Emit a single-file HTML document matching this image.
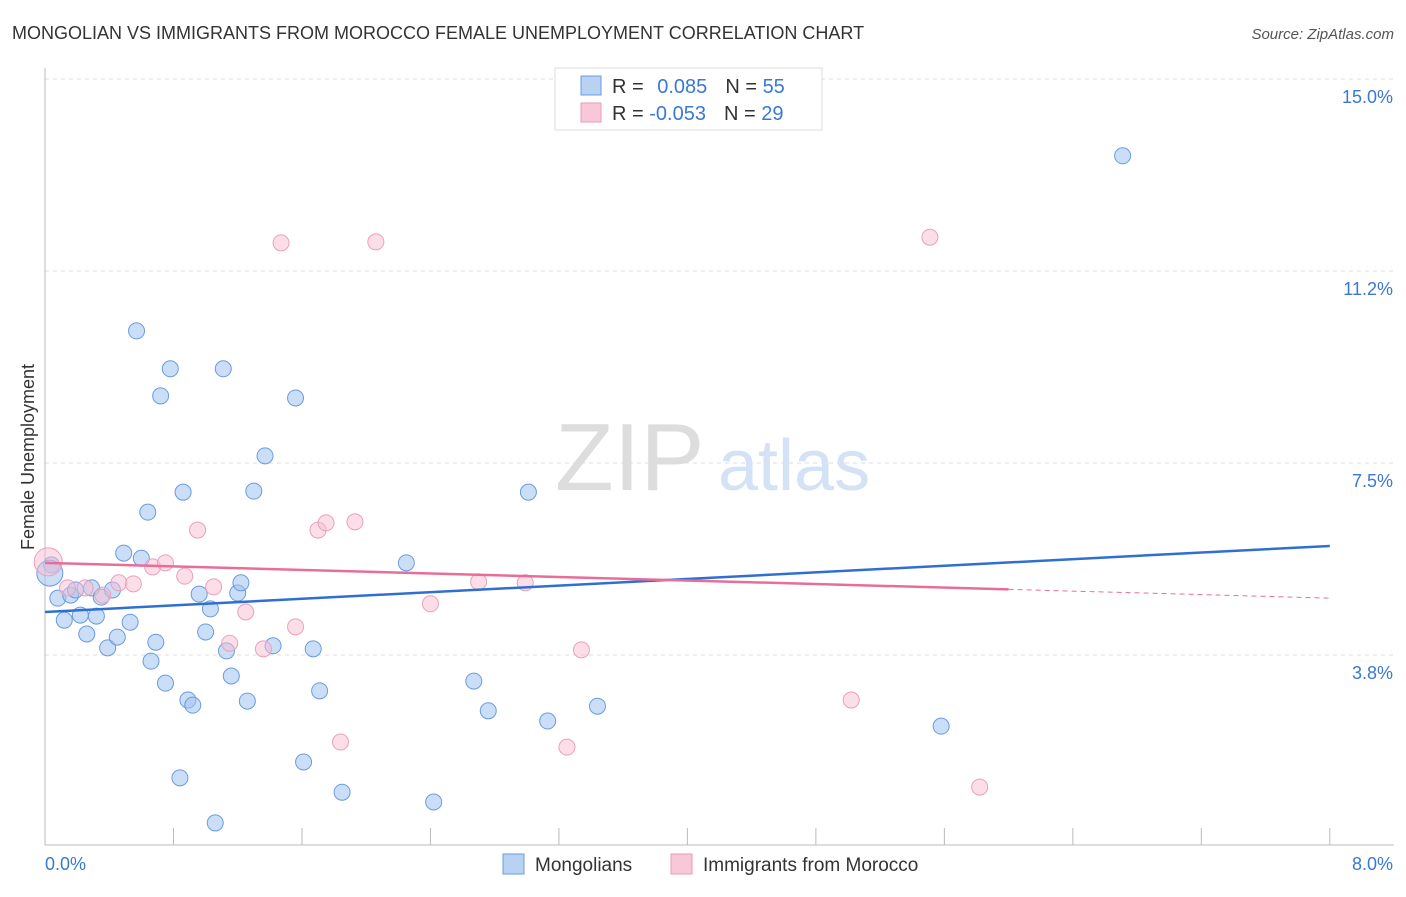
<!DOCTYPE html>
<html><head><meta charset="utf-8"><style>
body{margin:0;background:#fff;font-family:"Liberation Sans",sans-serif;}
svg text{font-family:"Liberation Sans",sans-serif;}
</style></head><body>
<svg id="chart" width="1406" height="892" viewBox="0 0 1406 892">
<text x="12" y="39" font-size="18" fill="#333">MONGOLIAN VS IMMIGRANTS FROM MOROCCO FEMALE UNEMPLOYMENT CORRELATION CHART</text>
<text x="1394" y="39" font-size="15" fill="#555" text-anchor="end" font-style="italic">Source: ZipAtlas.com</text>
<g id="grid"></g>
<g id="axes"></g>
<text x="555" y="490" font-size="96" fill="#ddd" font-family="Liberation Serif">ZIP</text>
<text x="718" y="490" font-size="72" fill="#d4e2f5">atlas</text>
<text transform="translate(34,457) rotate(-90)" font-size="18" fill="#333" text-anchor="middle">Female Unemployment</text>
<g id="pts"></g>
<g id="lines"></g>
<g>
<rect x="555" y="68" width="267" height="62" fill="#fff" stroke="#ddd"/>
<rect x="581" y="76" width="20" height="19" fill="#b8d2f4" stroke="#6a9be0"/>
<rect x="581" y="103" width="20" height="19" fill="#f9c8d8" stroke="#e99ab6"/>
<text x="612" y="93" font-size="20" fill="#333">R = <tspan fill="#3a78d4" dx="8">0.085</tspan><tspan dx="18">N = </tspan><tspan fill="#3a78d4">55</tspan></text>
<text x="612" y="120" font-size="20" fill="#333">R = <tspan fill="#3a78d4">-0.053</tspan><tspan dx="18">N = </tspan><tspan fill="#3a78d4">29</tspan></text>
</g>
<g>
<rect x="503" y="854" width="21" height="20" fill="#b8d2f4" stroke="#6a9be0"/>
<text x="535" y="871" font-size="19" fill="#333">Mongolians</text>
<rect x="671" y="854" width="21" height="20" fill="#f9c8d8" stroke="#e99ab6"/>
<text x="703" y="871" font-size="19" fill="#333">Immigrants from Morocco</text>
</g>
</svg>
<script>
const yTicks=[3.75,7.5,11.25,15];
const yTickLabels=["3.8%","7.5%","11.2%","15.0%"];
const xTicks=[0,0.8,1.6,2.4,3.2,4.0,4.8,5.6,6.4,7.2,8.0];
const blueX=[0.04,0.08,0.12,0.16,0.19,0.22,0.26,0.29,0.32,0.35,0.39,0.42,0.45,0.49,0.53,0.57,0.60,0.64,0.66,0.69,0.72,0.75,0.78,0.84,0.86,0.89,0.92,0.96,1.00,1.03,1.06,1.11,1.13,1.16,1.20,1.22,1.26,1.30,1.37,1.42,1.56,1.61,1.67,1.71,1.85,2.25,2.42,2.67,2.76,3.01,3.13,3.44,5.58,6.71,0.03];
const blueY=[5.51,4.86,4.43,4.92,5.02,4.53,4.16,5.06,4.51,4.88,3.89,5.02,4.10,5.74,4.39,10.08,5.64,6.54,3.63,4.00,8.81,3.20,9.34,1.35,6.93,2.87,2.77,4.94,4.20,4.65,0.47,9.34,3.83,3.34,4.96,5.16,2.85,6.95,7.64,3.93,8.77,1.66,3.87,3.05,1.07,5.55,0.88,3.24,2.66,6.93,2.46,2.75,2.36,13.50,5.35];
const pinkX=[0.02,0.14,0.25,0.36,0.46,0.55,0.67,0.75,0.87,0.95,1.05,1.15,1.25,1.36,1.47,1.56,1.70,1.75,1.84,1.93,2.06,2.40,2.70,2.99,3.25,3.34,5.02,5.51,5.82];
const pinkY=[5.57,5.06,5.06,4.92,5.16,5.14,5.47,5.55,5.29,6.19,5.08,3.98,4.59,3.87,11.80,4.30,6.19,6.33,2.05,6.35,11.82,4.75,5.18,5.16,1.95,3.85,2.87,11.91,1.17];
const blueTrend=[4.59,5.88];
const pinkTrend=[5.55,4.86];
const pinkSolidEnd=6.0;
const X=v=>45+v*160.6, Y=v=>847-v*51.2;
const NS="http://www.w3.org/2000/svg";
function mk(tag,attrs,parent){const e=document.createElementNS(NS,tag);for(const k in attrs)e.setAttribute(k,attrs[k]);document.getElementById(parent).appendChild(e);return e;}
yTicks.forEach((t,i)=>{
 const l=mk('line',{x1:45,x2:1394,y1:Y(t),y2:Y(t),stroke:'#ddd','stroke-dasharray':'4,4'},'grid');
 
 
 const tx=mk('text',{x:1393,y:Y(t)+24,'font-size':18,fill:'#3a78d4','text-anchor':'end'},'grid');
 tx.textContent=yTickLabels[i];
 
 
});
const ya=mk('line',{x1:45,x2:45,y1:68,y2:845,stroke:'#bbb'},'axes');


const xa=mk('line',{x1:45,x2:1394,y1:845,y2:845,stroke:'#bbb'},'axes');


xTicks.forEach(t=>{
 const l=mk('line',{x1:X(t),x2:X(t),y1:828,y2:845,stroke:'#bbb'},'axes');
 
 
});
const xl0=mk('text',{x:45,y:870,'font-size':18,fill:'#3a78d4'},'axes');xl0.textContent="0.0%";


const xl1=mk('text',{x:1393,y:870,'font-size':18,fill:'#3a78d4','text-anchor':'end'},'axes');xl1.textContent="8.0%";


blueX.forEach((v,i)=>{
 const c=mk('circle',{cx:X(v),cy:Y(blueY[i]),r:i==blueX.length-1?13:8,fill:'rgba(160,195,240,0.55)',stroke:'#6a9be0','stroke-width':1},'pts');
 
 
});
pinkX.forEach((v,i)=>{
 const c=mk('circle',{cx:X(v),cy:Y(pinkY[i]),r:i==0?14:8,fill:'rgba(248,190,210,0.5)',stroke:'#eaa0bc','stroke-width':1},'pts');
 
 
});
const bl=mk('line',{x1:X(0),y1:Y(blueTrend[0]),x2:X(8),y2:Y(blueTrend[1]),stroke:'#2f6fd2','stroke-width':2.5},'lines');


const pm=pinkTrend[0]+(pinkTrend[1]-pinkTrend[0])*pinkSolidEnd/8;
const pl=mk('line',{x1:X(0),y1:Y(pinkTrend[0]),x2:X(pinkSolidEnd),y2:Y(pm),stroke:'#e86e98','stroke-width':2.5},'lines');


const pd=mk('line',{x1:X(pinkSolidEnd),y1:Y(pm),x2:X(8),y2:Y(pinkTrend[1]),stroke:'#e86e98','stroke-width':1,'stroke-dasharray':'5,4'},'lines');


</script>
</body></html>
